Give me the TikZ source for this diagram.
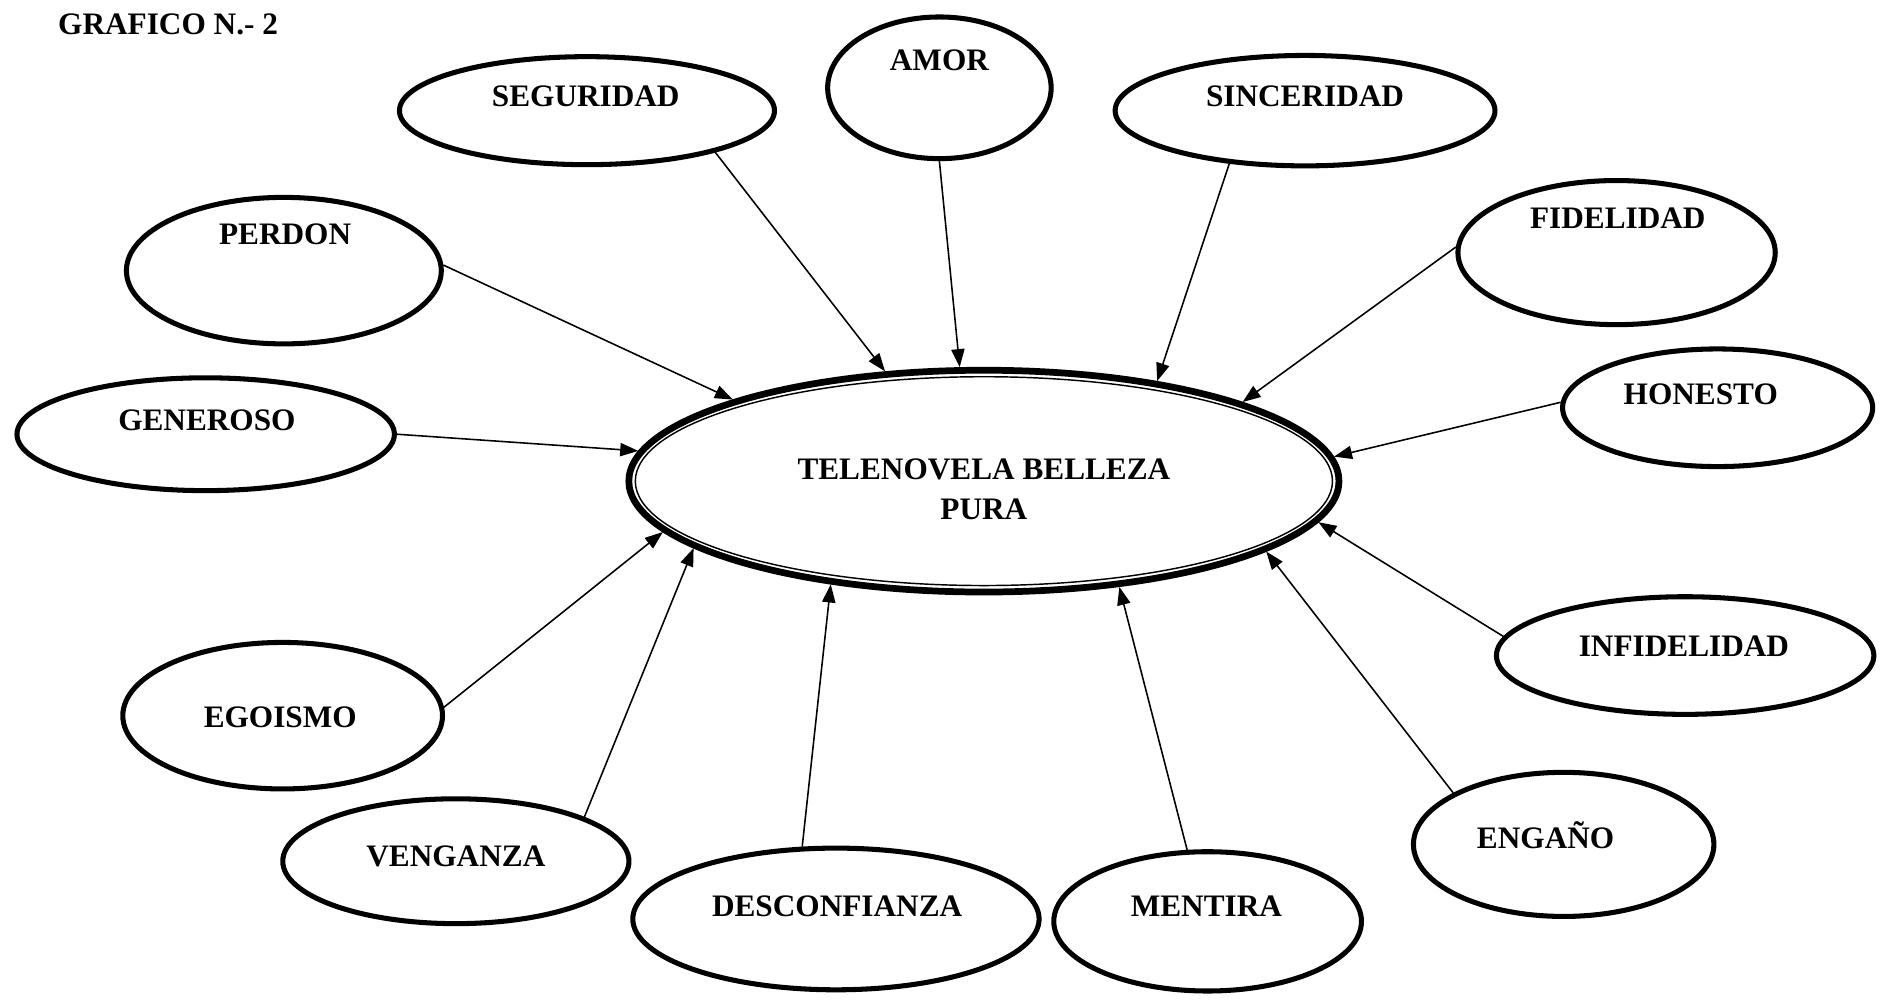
\documentclass[tikz,border=0pt]{standalone}
\usepackage{fontspec}
\setmainfont{Liberation Serif}
\usetikzlibrary{shapes.geometric,arrows.meta}
\begin{document}
\begin{tikzpicture}[x=0.5pt,y=-0.5pt,
  bub/.style 2 args={ellipse, draw, line width=2.1pt, inner sep=0pt,
    minimum width={#1pt-2.1pt}, minimum height={#2pt-2.1pt}},
  lbl/.style={font=\fontsize{13}{15}\selectfont\bfseries, inner sep=0pt,
    text height=8.6pt, text depth=0pt},
  arr/.style={line width=0.65pt, -{Triangle[length=7.5pt,width=5.5pt]}}]
\useasboundingbox (0,0) rectangle (1568,831);
\node[lbl, anchor=west] (title) at (48,20) {GRAFICO N.- 2};
% central
\node[ellipse, draw, line width=2.8pt, inner sep=0pt,
  minimum width=295.2pt, minimum height=92.2pt] (c) at (818,400) {};
\draw[line width=0.6pt] (c.center) ellipse [x radius=144.9pt, y radius=43.4pt];
\node[lbl] (ct1) at (818,390) {TELENOVELA BELLEZA};
\node[lbl] (ct2) at (818,423) {PURA};
% satellites
\node[bub={158}{47}] (seg) at (488,92) {};
\node[lbl] (tseg) at (487,80) {SEGURIDAD};
\node[bub={95}{61}] (amor) at (781,73) {};
\node[lbl] (tamor) at (781,50) {AMOR};
\node[bub={160}{48}] (sinc) at (1085,92) {};
\node[lbl] (tsinc) at (1085,80) {SINCERIDAD};
\node[bub={133}{63}] (perd) at (236,225) {};
\node[lbl] (tperd) at (237,195) {PERDON};
\node[bub={134}{62}] (fid) at (1344,210) {};
\node[lbl] (tfid) at (1345,181) {FIDELIDAD};
\node[bub={159}{49}] (gen) at (171,361) {};
\node[lbl] (tgen) at (172,349) {GENEROSO};
\node[bub={131}{51}] (hon) at (1428,339) {};
\node[lbl] (thon) at (1414,328) {HONESTO};
\node[bub={135}{63}] (ego) at (235,595) {};
\node[lbl] (tego) at (233,596) {EGOISMO};
\node[bub={159}{51}] (infi) at (1401,545) {};
\node[lbl] (tinfi) at (1400,537) {INFIDELIDAD};
\node[bub={146}{54}] (veng) at (379,716) {};
\node[lbl] (tveng) at (379,712) {VENGANZA};
\node[bub={171}{61}] (desc) at (695,764) {};
\node[lbl] (tdesc) at (696,753) {DESCONFIANZA};
\node[bub={130}{60}] (ment) at (1004,766) {};
\node[lbl] (tment) at (1003,753) {MENTIRA};
\node[bub={127}{62}] (eng) at (1300,702) {};
\node[lbl] (teng) at (1285,697) {ENGAÑO};
% arrows
\draw[arr] (perd.2) -- (c.162.4);
\draw[arr] (seg.-18) -- (c.132.5);
\draw[arr] (amor.-90) -- (c.102.3);
\draw[arr] (sinc.215) -- (c.30.9);
\draw[arr] (fid.178) -- (c.17);
\draw[arr] (hon.178) -- (c.4.8);
\draw[arr] (gen.0) -- (c.175.3);
\draw[arr] (infi.174) -- (c.-7);
\draw[arr] (eng.155) -- (c.-14.7);
\draw[arr] (ment.106) -- (c.-38.8);
\draw[arr] (desc.115) -- (c.214.3);
\draw[arr] (veng.19) -- (c.193.8);
\draw[arr] (ego.3) -- (c.189.7);
\end{tikzpicture}
\end{document}
